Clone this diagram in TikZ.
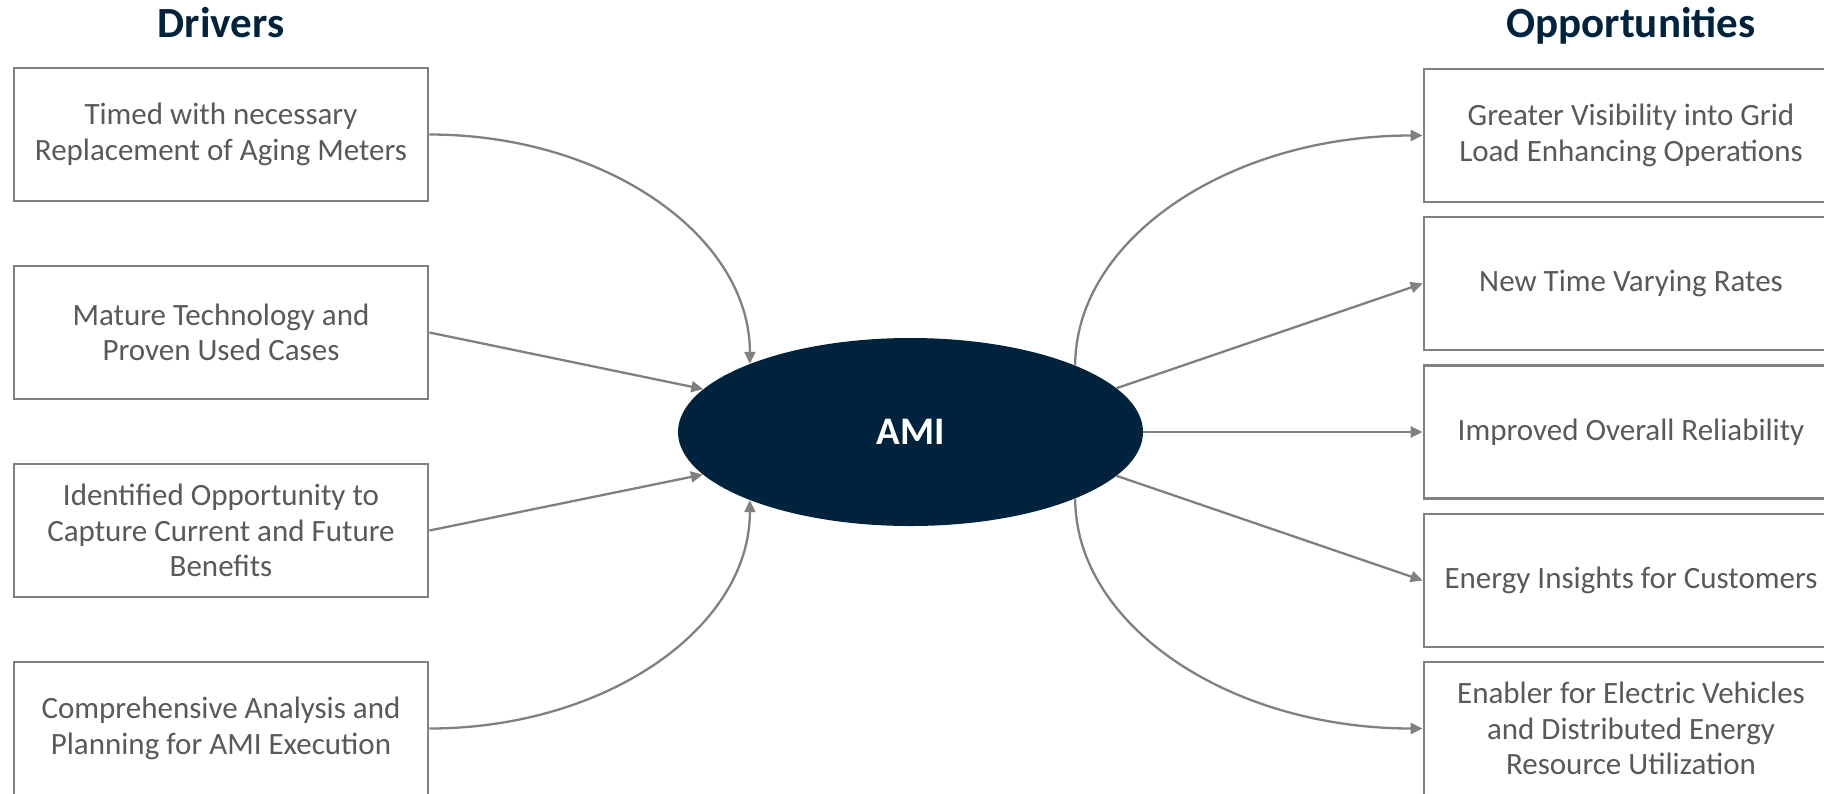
\documentclass[tikz,border=0pt]{standalone}
\usepackage{fontspec}
\setmainfont{Carlito}
\usetikzlibrary{shapes.geometric,arrows.meta}
\definecolor{navy}{HTML}{00233D}
\definecolor{linegray}{HTML}{808080}
\definecolor{textgray}{HTML}{595959}
\begin{document}
\begin{tikzpicture}[x=1pt,y=-1pt,
  card/.style={draw=linegray,line width=2.8pt,fill=white,minimum width=414pt,
    minimum height=133pt,inner sep=0pt,align=center,text=textgray,
    font=\fontsize{31}{35.5}\selectfont},
  heading/.style={anchor=base,text=navy,inner sep=0pt,
    font=\fontsize{43}{48}\selectfont\bfseries},
  link/.style={draw=linegray,line width=2.3pt,
    -{Triangle[length=12pt,width=11pt]}}]
\useasboundingbox (0,0) rectangle (1824,793);

% column headings
\node[heading] (hd) at (221,37) {Drivers};
\node[heading] (ho) at (1631,37) {Opportunities};

% central hub
\node[ellipse,fill=navy,minimum width=465pt,minimum height=188pt,inner sep=0pt,
  text=white,font=\fontsize{39}{44}\selectfont\bfseries] (ami) at (910.5,432) {AMI};

% drivers
\node[card] (L1) at (221,134.5) {Timed with necessary\\Replacement of Aging Meters};
\node[card] (L2) at (221,332.5) {Mature Technology and\\Proven Used Cases};
\node[card] (L3) at (221,530.5) {Identified Opportunity to\\Capture Current and Future\\Benefits};
\node[card] (L4) at (221,728.5) {Comprehensive Analysis and\\Planning for AMI Execution};

% opportunities
\node[card] (R1) at (1631,135.5) {Greater Visibility into Grid\\Load Enhancing Operations};
\node[card] (R2) at (1631,283.5) {New Time Varying Rates};
\node[card] (R3) at (1631,432) {Improved Overall Reliability};
\node[card] (R4) at (1631,580.5) {Energy Insights for Customers};
\node[card] (R5) at (1631,728.5) {Enabler for Electric Vehicles\\and Distributed Energy\\Resource Utilization};

% drivers feed the hub
\draw[link] (L1.east) .. controls +(176,0) and +(0,-128) .. (ami.157.6);
\draw[link] (L2.east) -- (ami);
\draw[link] (L3.east) -- (ami);
\draw[link] (L4.east) .. controls +(176,0) and +(0,128) .. (ami.-157.6);

% hub leads to opportunities
\draw[link] (ami.22.9) .. controls +(0,-126) and +(-194,0) .. (R1.west);
\draw[link] (ami.12.4) -- (R2.west);
\draw[link] (ami.east) -- (R3.west);
\draw[link] (ami.-12.4) -- (R4.west);
\draw[link] (ami.-22.9) .. controls +(0,126) and +(-194,0) .. (R5.west);
\end{tikzpicture}
\end{document}
